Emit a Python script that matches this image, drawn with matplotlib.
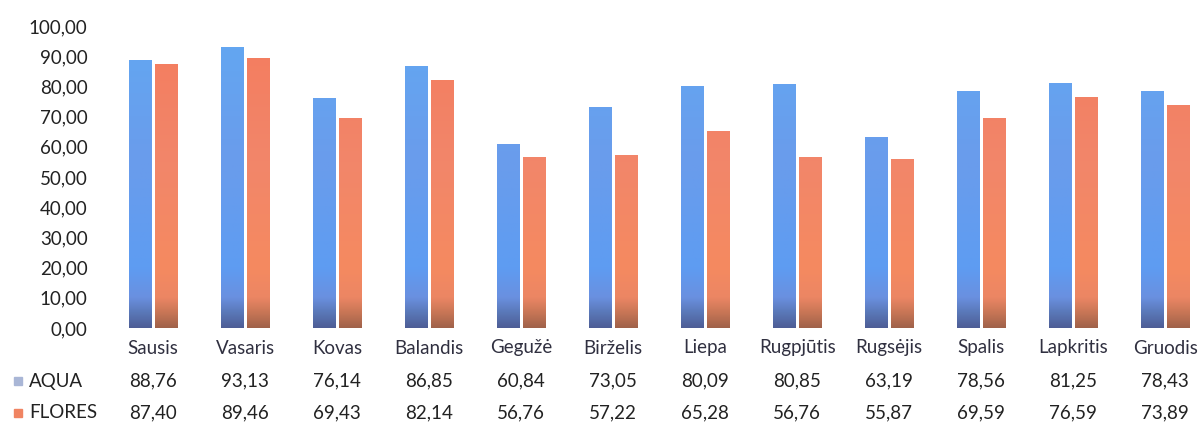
import numpy as np
import matplotlib
matplotlib.use("Agg")
import matplotlib.pyplot as plt
from matplotlib.colors import LinearSegmentedColormap
from matplotlib.patches import Rectangle
from matplotlib.transforms import blended_transform_factory

plt.rcParams.update({
    "font.family": ["Lato", "DejaVu Sans"],
    "font.size": 13.5,
})

months = ["Sausis", "Vasaris", "Kovas", "Balandis", "Gegužė", "Birželis",
          "Liepa", "Rugpjūtis", "Rugsėjis", "Spalis", "Lapkritis", "Gruodis"]
aqua = [88.76, 93.13, 76.14, 86.85, 60.84, 73.05,
        80.09, 80.85, 63.19, 78.56, 81.25, 78.43]
flores = [87.40, 89.46, 69.43, 82.14, 56.76, 57.22,
          65.28, 56.76, 55.87, 69.59, 76.59, 73.89]
yticks = np.arange(0, 101, 10)


def fmt(v):
    return f"{v:.2f}".replace(".", ",")


# gradients over the full 0..100 range (top -> bottom), dark band near base
cmap_aqua = LinearSegmentedColormap.from_list("aqua", [
    (0.0, "#62a8f2"), (0.45, "#6a9cec"), (0.80, "#5e9cf2"),
    (0.90, "#6a90e0"), (0.95, "#5a78b8"), (1.0, "#4e5e96")])
cmap_flores = LinearSegmentedColormap.from_list("flores", [
    (0.0, "#f47c5e"), (0.45, "#f2866a"), (0.80, "#f58a60"),
    (0.90, "#ec8664"), (0.95, "#c87656"), (1.0, "#a0624a")])

W, H = 1202, 424
fig = plt.figure(figsize=(W / 100, H / 100), dpi=100)
ax = fig.add_axes([107 / W, 96 / H, 1095 / W, 302 / H])

x = np.arange(len(months))
bw = 0.24
off = 0.14
grad = np.linspace(0, 1, 256).reshape(-1, 1)

for vals, dx, cmap in ((aqua, -off, cmap_aqua), (flores, off, cmap_flores)):
    bars = ax.bar(x + dx, vals, width=bw, color="none", edgecolor="none")
    for b in bars:
        x0 = b.get_x()
        im = ax.imshow(grad, cmap=cmap, aspect="auto", origin="upper",
                       extent=[x0, x0 + bw, 0, 100], zorder=2)
        im.set_clip_path(b)

ax.set_xlim(-0.5, 11.4)
ax.set_ylim(0, 100)
ax.set_yticks(yticks)
ax.set_yticklabels([fmt(t) for t in yticks], color="#222222")
ax.tick_params(axis="y", length=0, pad=14)
ax.set_xticks([])
for s in ax.spines.values():
    s.set_visible(False)

tr = blended_transform_factory(ax.transData, fig.transFigure)
for i, m in enumerate(months):
    ax.text(i, (H - 348) / H, m, transform=tr, ha="center", va="center",
            color="#303040")
    ax.text(i, (H - 381) / H, fmt(aqua[i]), transform=tr, ha="center",
            va="center", color="#222222")
    ax.text(i, (H - 413) / H, fmt(flores[i]), transform=tr, ha="center",
            va="center", color="#222222")

# data table row headers with legend keys
for yy, name, col in ((381, "AQUA", "#a9b6d6"), (413, "FLORES", "#f08462")):
    fig.patches.append(Rectangle((14 / W, (H - yy - 4) / H), 8 / W, 8 / H,
                                 transform=fig.transFigure, color=col))
    fig.text(29 / W, (H - yy) / H, name, ha="left", va="center",
             color="#222222")

fig.savefig("out.png", dpi=100, facecolor="white")
